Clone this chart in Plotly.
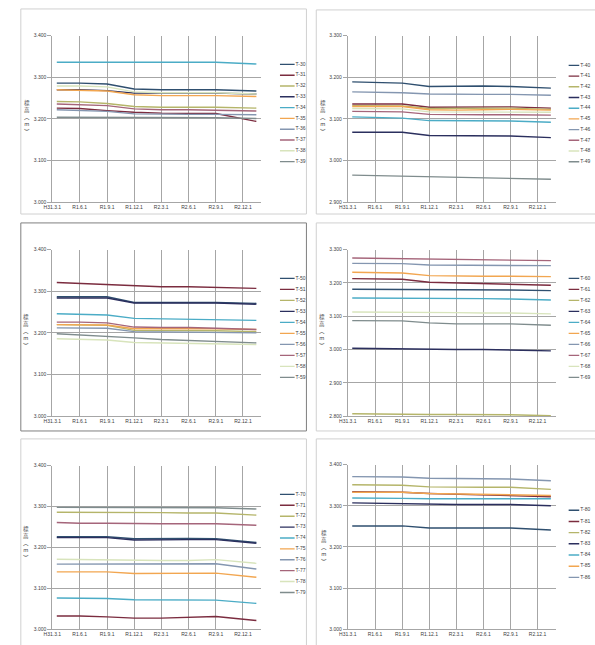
import plotly.graph_objects as go

W, H = 595, 645

# ---------------- data ----------------
dates = ["2019-03-16", "2019-06-01", "2019-09-01", "2019-12-01",
         "2020-03-01", "2020-06-01", "2020-09-01", "2021-01-15"]
tick_dates = ["2019-03-01", "2019-06-01", "2019-09-01", "2019-12-01",
              "2020-03-01", "2020-06-01", "2020-09-01", "2020-12-01"]
tick_labels = ["H31.3.1", "R1.6.1", "R1.9.1", "R1.12.1",
               "R2.3.1", "R2.6.1", "R2.9.1", "R2.12.1"]

p1_names = ["T-30", "T-31", "T-32", "T-33", "T-34", "T-35", "T-36", "T-37", "T-38", "T-39"]
p1_values = [
    [3.286, 3.286, 3.284, 3.272, 3.270, 3.270, 3.270, 3.267],
    [3.226, 3.225, 3.220, 3.216, 3.214, 3.213, 3.213, 3.194],
    [3.242, 3.241, 3.237, 3.230, 3.228, 3.228, 3.228, 3.226],
    [3.270, 3.270, 3.268, 3.262, 3.262, 3.262, 3.262, 3.260],
    [3.336, 3.336, 3.336, 3.336, 3.336, 3.336, 3.336, 3.332],
    [3.270, 3.269, 3.267, 3.258, 3.256, 3.256, 3.256, 3.254],
    [3.222, 3.221, 3.218, 3.212, 3.211, 3.211, 3.211, 3.210],
    [3.236, 3.235, 3.232, 3.224, 3.222, 3.222, 3.221, 3.219],
    [3.279, 3.279, 3.277, 3.265, 3.263, 3.263, 3.263, 3.260],
    [3.204, 3.204, 3.204, 3.204, 3.203, 3.203, 3.203, 3.201],
]

p2_names = ["T-40", "T-41", "T-42", "T-43", "T-44", "T-45", "T-46", "T-47", "T-48", "T-49"]
p2_values = [
    [3.189, 3.188, 3.186, 3.178, 3.179, 3.179, 3.178, 3.174],
    [3.136, 3.136, 3.136, 3.128, 3.128, 3.128, 3.129, 3.126],
    [3.132, 3.132, 3.131, 3.125, 3.125, 3.125, 3.126, 3.123],
    [3.068, 3.068, 3.068, 3.060, 3.060, 3.060, 3.059, 3.055],
    [3.105, 3.104, 3.102, 3.096, 3.096, 3.095, 3.095, 3.092],
    [3.130, 3.130, 3.130, 3.122, 3.121, 3.122, 3.123, 3.121],
    [3.165, 3.164, 3.163, 3.160, 3.159, 3.159, 3.159, 3.157],
    [3.118, 3.118, 3.117, 3.111, 3.110, 3.110, 3.110, 3.109],
    [3.125, 3.125, 3.124, 3.117, 3.117, 3.117, 3.117, 3.116],
    [2.965, 2.964, 2.963, 2.961, 2.959, 2.958, 2.958, 2.955],
]

p3_names = ["T-50", "T-51", "T-52", "T-53", "T-54", "T-55", "T-56", "T-57", "T-58", "T-59"]
p3_values = [
    [3.287, 3.287, 3.287, 3.273, 3.273, 3.273, 3.273, 3.271],
    [3.321, 3.319, 3.317, 3.313, 3.311, 3.311, 3.310, 3.307],
    [3.220, 3.219, 3.218, 3.206, 3.206, 3.206, 3.205, 3.203],
    [3.284, 3.284, 3.284, 3.272, 3.272, 3.272, 3.272, 3.269],
    [3.246, 3.245, 3.243, 3.235, 3.234, 3.234, 3.233, 3.230],
    [3.220, 3.220, 3.219, 3.210, 3.210, 3.210, 3.210, 3.208],
    [3.212, 3.212, 3.211, 3.203, 3.202, 3.202, 3.201, 3.200],
    [3.226, 3.226, 3.224, 3.214, 3.213, 3.213, 3.211, 3.208],
    [3.186, 3.184, 3.183, 3.177, 3.176, 3.175, 3.173, 3.172],
    [3.198, 3.195, 3.193, 3.188, 3.184, 3.182, 3.179, 3.176],
]

p4_names = ["T-60", "T-61", "T-62", "T-63", "T-64", "T-65", "T-66", "T-67", "T-68", "T-69"]
p4_values = [
    [3.181, 3.181, 3.181, 3.180, 3.180, 3.180, 3.179, 3.177],
    [3.213, 3.212, 3.211, 3.202, 3.200, 3.198, 3.197, 3.193],
    [2.807, 2.806, 2.806, 2.805, 2.805, 2.805, 2.804, 2.801],
    [3.004, 3.003, 3.002, 3.000, 3.000, 3.000, 2.999, 2.996],
    [3.155, 3.155, 3.155, 3.154, 3.153, 3.153, 3.152, 3.149],
    [3.232, 3.232, 3.230, 3.222, 3.220, 3.220, 3.220, 3.219],
    [3.259, 3.259, 3.258, 3.254, 3.254, 3.254, 3.254, 3.252],
    [3.275, 3.274, 3.274, 3.272, 3.271, 3.271, 3.270, 3.267],
    [3.113, 3.113, 3.113, 3.111, 3.111, 3.110, 3.110, 3.107],
    [3.087, 3.087, 3.086, 3.080, 3.077, 3.077, 3.077, 3.073],
]

p5_names = ["T-70", "T-71", "T-72", "T-73", "T-74", "T-75", "T-76", "T-77", "T-78", "T-79"]
p5_values = [
    [3.226, 3.226, 3.226, 3.221, 3.222, 3.222, 3.221, 3.212],
    [3.032, 3.032, 3.030, 3.027, 3.027, 3.029, 3.031, 3.021],
    [3.286, 3.286, 3.285, 3.285, 3.285, 3.284, 3.284, 3.279],
    [3.224, 3.224, 3.224, 3.218, 3.219, 3.219, 3.219, 3.210],
    [3.076, 3.076, 3.075, 3.072, 3.072, 3.072, 3.071, 3.063],
    [3.140, 3.140, 3.140, 3.136, 3.136, 3.137, 3.137, 3.127],
    [3.159, 3.159, 3.160, 3.159, 3.159, 3.159, 3.160, 3.147],
    [3.261, 3.259, 3.259, 3.258, 3.258, 3.258, 3.258, 3.254],
    [3.171, 3.170, 3.169, 3.168, 3.168, 3.168, 3.170, 3.161],
    [3.298, 3.298, 3.297, 3.297, 3.297, 3.297, 3.297, 3.294],
]

p6_names = ["T-80", "T-81", "T-82", "T-83", "T-84", "T-85", "T-86"]
p6_values = [
    [3.251, 3.251, 3.251, 3.246, 3.246, 3.246, 3.246, 3.241],
    [3.334, 3.334, 3.333, 3.330, 3.328, 3.327, 3.325, 3.322],
    [3.351, 3.351, 3.350, 3.346, 3.345, 3.345, 3.345, 3.340],
    [3.307, 3.306, 3.305, 3.303, 3.303, 3.303, 3.303, 3.300],
    [3.319, 3.319, 3.318, 3.317, 3.317, 3.317, 3.318, 3.317],
    [3.333, 3.333, 3.333, 3.330, 3.329, 3.329, 3.328, 3.325],
    [3.371, 3.371, 3.370, 3.367, 3.366, 3.366, 3.365, 3.361],
]

y_ranges = [(3.0, 3.4), (2.9, 3.3), (3.0, 3.4), (2.8, 3.3), (3.0, 3.4), (3.0, 3.4)]

colors = ["#2F4F6F", "#7B2C3F", "#B5B56A", "#2B2F5E", "#4BACC6",
          "#F2A650", "#8496B0", "#A5657A", "#D8E4BC", "#7F8C8D"]

# ---------------- layout geometry (pixels) ----------------
# leg = (x of sample start, y of first item, item spacing, sample length)
panels = [
    dict(names=p1_names, values=p1_values, plot=(44, 256, 33, 201), leg=(275, 62, 10.9, 15),
         title=(18, 116), box=(12, 302, 6, 213), boxc="#D0D0D0"),
    dict(names=p2_names, values=p2_values, plot=(344, 555, 33, 201), leg=(568, 63, 10.8, 11),
         title=(319, 116), box=(312, 640, 7, 213), boxc="#D0D0D0"),
    dict(names=p3_names, values=p3_values, plot=(44, 256, 249, 417), leg=(275, 278, 11.1, 15),
         title=(17, 332), box=(12, 302, 222, 432), boxc="#7F7F7F"),
    dict(names=p4_names, values=p4_values, plot=(344, 555, 249, 417), leg=(568, 278, 11.1, 11),
         title=(318, 332), box=(312, 640, 222, 432), boxc="#D0D0D0"),
    dict(names=p5_names, values=p5_values, plot=(44, 256, 467, 632), leg=(275, 496, 11.0, 15),
         title=(17, 546), box=(12, 302, 440, 680), boxc="#D0D0D0"),
    dict(names=p6_names, values=p6_values, plot=(344, 555, 466, 632), leg=(568, 512, 11.3, 11),
         title=(320, 550), box=(312, 640, 440, 680), boxc="#D0D0D0"),
]

GRID = "#A6A6A6"
TICKFONT = dict(family="Liberation Sans", size=5, color="#404040")

fig = go.Figure()
layout = dict(width=W, height=H, margin=dict(l=0, r=0, t=0, b=0),
              paper_bgcolor="white", plot_bgcolor="white", showlegend=False,
              shapes=[], annotations=[])

for i, p in enumerate(panels):
    k = i + 1
    xa, ya = f"x{k}", f"y{k}"
    x0, x1, top, bot = p["plot"]
    ymin, ymax = y_ranges[i]
    layout[f"xaxis{k}"] = dict(
        domain=[x0 / W, x1 / W], anchor=ya, type="date",
        range=["2019-03-01", "2021-01-31"],
        tickmode="array", tickvals=tick_dates, ticktext=tick_labels,
        showgrid=True, gridcolor=GRID, gridwidth=1,
        showline=True, linecolor=GRID, linewidth=1,
        ticks="", tickfont=TICKFONT, tickangle=0, zeroline=False, fixedrange=True)
    layout[f"yaxis{k}"] = dict(
        domain=[1 - bot / H, 1 - top / H], anchor=xa,
        range=[ymin, ymax], tick0=ymin, dtick=0.1, tickformat=".3f",
        showgrid=True, gridcolor=GRID, gridwidth=1,
        showline=True, linecolor=GRID, linewidth=1,
        ticks="outside", ticklen=4, tickcolor=GRID,
        tickfont=TICKFONT, zeroline=False, fixedrange=True)
    for j, (nm, vals) in enumerate(zip(p["names"], p["values"])):
        fig.add_trace(go.Scatter(x=dates, y=vals, mode="lines", name=nm,
                                 line=dict(color=colors[j], width=1.4),
                                 xaxis=xa, yaxis=ya, hoverinfo="skip"))

    # legend drawn on its own hidden axis (units: px)
    lk = k + 6
    lx, ly, sp, ll = p["leg"]
    n = len(p["names"])
    lx1 = min(lx + 40, W)
    ltop, lbot = ly - 6, ly + (n - 1) * sp + 6
    layout[f"xaxis{lk}"] = dict(domain=[lx / W, lx1 / W], anchor=f"y{lk}",
                                range=[0, lx1 - lx], visible=False, fixedrange=True)
    layout[f"yaxis{lk}"] = dict(domain=[1 - lbot / H, 1 - ltop / H], anchor=f"x{lk}",
                                range=[n - 1 + 6 / sp, -6 / sp], visible=False, fixedrange=True)
    for j, nm in enumerate(p["names"]):
        fig.add_trace(go.Scatter(x=[0, ll], y=[j, j], mode="lines",
                                 line=dict(color=colors[j], width=1.4),
                                 xaxis=f"x{lk}", yaxis=f"y{lk}", hoverinfo="skip"))
    fig.add_trace(go.Scatter(x=[ll + 1] * n, y=list(range(n)), mode="text",
                             text=p["names"], textposition="middle right",
                             textfont=dict(family="Liberation Sans", size=5, color="#404040"),
                             cliponaxis=False,
                             xaxis=f"x{lk}", yaxis=f"y{lk}", hoverinfo="skip"))

    # axis title (vertical stacked)
    tx, ty = p["title"]
    layout["annotations"].append(dict(
        text="標<br>高<br>︵<br>m<br>︶", x=tx / W, y=1 - ty / H, xref="paper", yref="paper",
        showarrow=False, xanchor="center", yanchor="middle",
        font=dict(family="Noto Sans CJK JP", size=5.5, color="#404040")))

    # chart border
    bx0, bx1, by0, by1 = p["box"]
    layout["shapes"].append(dict(type="rect", xref="paper", yref="paper",
                                 x0=bx0 / W, x1=bx1 / W, y0=1 - by1 / H, y1=1 - by0 / H,
                                 line=dict(color=p["boxc"], width=1), fillcolor="rgba(0,0,0,0)",
                                 layer="below"))

fig.update_layout(**layout)
fig.write_html("out.html", config={"displayModeBar": False},
               post_script="document.body.style.margin='0';document.body.style.overflow='hidden';")
